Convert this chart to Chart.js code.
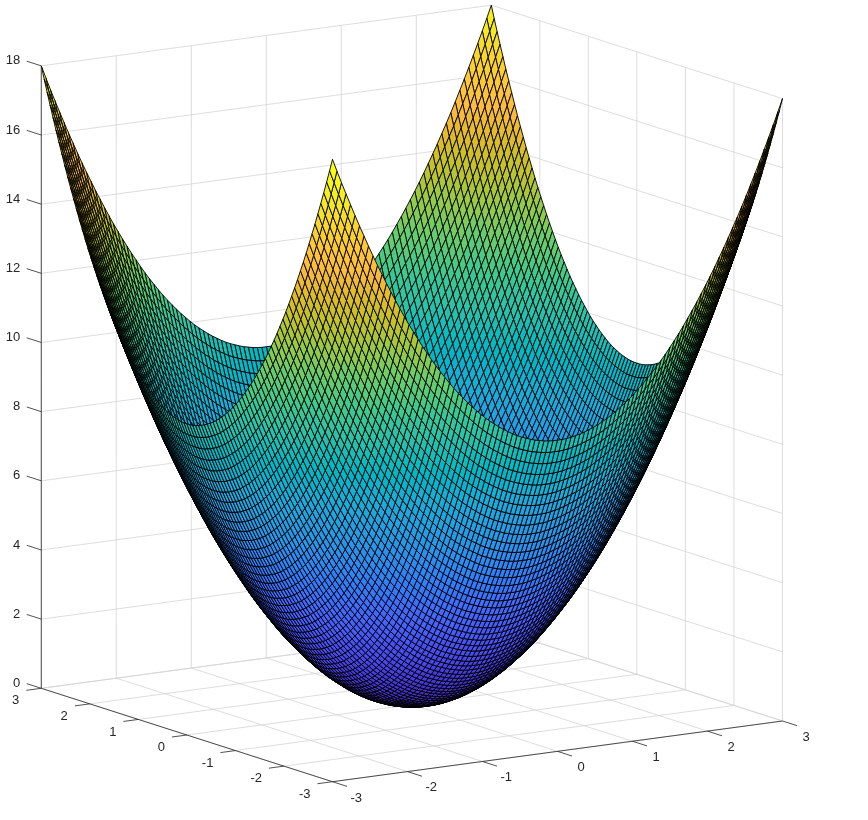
<!DOCTYPE html>
<html>
<head>
<meta charset="utf-8">
<script src="https://cdn.jsdelivr.net/npm/chart.js@4/dist/chart.umd.js"></script>
<style>body{margin:0;background:#fff}canvas{display:block}</style>
</head>
<body>
<canvas id="surfaceChart" width="868" height="820"></canvas>
<script>
// axis ticks
const xTicks = [-3, -2, -1, 0, 1, 2, 3];
const yTicks = [-3, -2, -1, 0, 1, 2, 3];
const zTicks = [0, 2, 4, 6, 8, 10, 12, 14, 16, 18];

// mesh positions, same on x and y
const gridX = [-3,-2.94,-2.88,-2.82,-2.76,-2.7,-2.64,-2.58,-2.52,-2.46,-2.4,-2.34,-2.28,-2.22,-2.16,-2.1,-2.04,-1.98,-1.92,-1.86,-1.8,-1.74,-1.68,-1.62,-1.56,-1.5,-1.44,-1.38,-1.32,-1.26,-1.2,-1.14,-1.08,-1.02,-0.96,-0.9,-0.84,-0.78,-0.72,-0.66,-0.6,-0.54,-0.48,-0.42,-0.36,-0.3,-0.24,-0.18,-0.12,-0.06,0,0.06,0.12,0.18,0.24,0.3,0.36,0.42,0.48,0.54,0.6,0.66,0.72,0.78,0.84,0.9,0.96,1.02,1.08,1.14,1.2,1.26,1.32,1.38,1.44,1.5,1.56,1.62,1.68,1.74,1.8,1.86,1.92,1.98,2.04,2.1,2.16,2.22,2.28,2.34,2.4,2.46,2.52,2.58,2.64,2.7,2.76,2.82,2.88,2.94,3];

// surface height in hundredths. The bowl is mirrored about both axes and the
// diagonal, so only one wedge is typed: row = steps from centre on the longer side
const heightRows = [
[0],
[0,0],
[1,1,2],
[3,3,4,6],
[6,6,7,9,12],
[9,9,10,12,15,18],
[13,13,14,16,19,22,26],
[18,18,19,21,24,27,31,36],
[23,23,24,26,29,32,36,41,46],
[29,29,30,32,35,38,42,47,52,58],
[36,36,37,39,42,45,49,54,59,65,72],
[44,44,45,47,50,53,57,62,67,73,80,88],
[52,52,53,55,58,61,65,70,75,81,88,96,104],
[61,61,62,64,67,70,74,79,84,90,97,105,113,122],
[71,71,72,74,77,80,84,89,94,100,107,115,123,132,142],
[81,81,82,84,87,90,94,99,104,110,117,125,133,142,152,162],
[92,92,93,95,98,101,105,110,115,121,128,136,144,153,163,173,184],
[104,104,105,107,110,113,117,122,127,133,140,148,156,165,175,185,196,208],
[117,117,118,120,123,126,130,135,140,146,153,161,169,178,188,198,209,221,234],
[130,130,131,133,136,139,143,148,153,159,166,174,182,191,201,211,222,234,247,260],
[144,144,145,147,150,153,157,162,167,173,180,188,196,205,215,225,236,248,261,274,288],
[159,159,160,162,165,168,172,177,182,188,195,203,211,220,230,240,251,263,276,289,303,318],
[174,174,175,177,180,183,187,192,197,203,210,218,226,235,245,255,266,278,291,304,318,333,348],
[190,190,191,193,196,199,203,208,213,219,226,234,242,251,261,271,282,294,307,320,334,349,364,380],
[207,207,208,210,213,216,220,225,230,236,243,251,259,268,278,288,299,311,324,337,351,366,381,397,414],
[225,225,226,228,231,234,238,243,248,254,261,269,277,286,296,306,317,329,342,355,369,384,399,415,432,450],
[243,243,244,246,249,252,256,261,266,272,279,287,295,304,314,324,335,347,360,373,387,402,417,433,450,468,486],
[262,262,263,265,268,271,275,280,285,291,298,306,314,323,333,343,354,366,379,392,406,421,436,452,469,487,505,524],
[282,282,283,285,288,291,295,300,305,311,318,326,334,343,353,363,374,386,399,412,426,441,456,472,489,507,525,544,564],
[303,303,304,306,309,312,316,321,326,332,339,347,355,364,374,384,395,407,420,433,447,462,477,493,510,528,546,565,585,606],
[324,324,325,327,330,333,337,342,347,353,360,368,376,385,395,405,416,428,441,454,468,483,498,514,531,549,567,586,606,627,648],
[346,346,347,349,352,355,359,364,369,375,382,390,398,407,417,427,438,450,463,476,490,505,520,536,553,571,589,608,628,649,670,692],
[369,369,370,372,375,378,382,387,392,398,405,413,421,430,440,450,461,473,486,499,513,528,543,559,576,594,612,631,651,672,693,715,738],
[392,392,393,395,398,401,405,410,415,421,428,436,444,453,463,473,484,496,509,522,536,551,566,582,599,617,635,654,674,695,716,738,761,784],
[416,416,417,419,422,425,429,434,439,445,452,460,468,477,487,497,508,520,533,546,560,575,590,606,623,641,659,678,698,719,740,762,785,808,832],
[441,441,442,444,447,450,454,459,464,470,477,485,493,502,512,522,533,545,558,571,585,600,615,631,648,666,684,703,723,744,765,787,810,833,857,882],
[467,467,468,470,473,476,480,485,490,496,503,511,519,528,538,548,559,571,584,597,611,626,641,657,674,692,710,729,749,770,791,813,836,859,883,908,934],
[493,493,494,496,499,502,506,511,516,522,529,537,545,554,564,574,585,597,610,623,637,652,667,683,700,718,736,755,775,796,817,839,862,885,909,934,960,986],
[520,520,521,523,526,529,533,538,543,549,556,564,572,581,591,601,612,624,637,650,664,679,694,710,727,745,763,782,802,823,844,866,889,912,936,961,987,1013,1040],
[548,548,549,551,554,557,561,566,571,577,584,592,600,609,619,629,640,652,665,678,692,707,722,738,755,773,791,810,830,851,872,894,917,940,964,989,1015,1041,1068,1096],
[576,576,577,579,582,585,589,594,599,605,612,620,628,637,647,657,668,680,693,706,720,735,750,766,783,801,819,838,858,879,900,922,945,968,992,1017,1043,1069,1096,1124,1152],
[605,605,606,608,611,614,618,623,628,634,641,649,657,666,676,686,697,709,722,735,749,764,779,795,812,830,848,867,887,908,929,951,974,997,1021,1046,1072,1098,1125,1153,1181,1210],
[635,635,636,638,641,644,648,653,658,664,671,679,687,696,706,716,727,739,752,765,779,794,809,825,842,860,878,897,917,938,959,981,1004,1027,1051,1076,1102,1128,1155,1183,1211,1240,1270],
[666,666,667,669,672,675,679,684,689,695,702,710,718,727,737,747,758,770,783,796,810,825,840,856,873,891,909,928,948,969,990,1012,1035,1058,1082,1107,1133,1159,1186,1214,1242,1271,1301,1332],
[697,697,698,700,703,706,710,715,720,726,733,741,749,758,768,778,789,801,814,827,841,856,871,887,904,922,940,959,979,1000,1021,1043,1066,1089,1113,1138,1164,1190,1217,1245,1273,1302,1332,1363,1394],
[729,729,730,732,735,738,742,747,752,758,765,773,781,790,800,810,821,833,846,859,873,888,903,919,936,954,972,991,1011,1032,1053,1075,1098,1121,1145,1170,1196,1222,1249,1277,1305,1334,1364,1395,1426,1458],
[762,762,763,765,768,771,775,780,785,791,798,806,814,823,833,843,854,866,879,892,906,921,936,952,969,987,1005,1024,1044,1065,1086,1108,1131,1154,1178,1203,1229,1255,1282,1310,1338,1367,1397,1428,1459,1491,1524],
[795,795,796,798,801,804,808,813,818,824,831,839,847,856,866,876,887,899,912,925,939,954,969,985,1002,1020,1038,1057,1077,1098,1119,1141,1164,1187,1211,1236,1262,1288,1315,1343,1371,1400,1430,1461,1492,1524,1557,1590],
[829,829,830,832,835,838,842,847,852,858,865,873,881,890,900,910,921,933,946,959,973,988,1003,1019,1036,1054,1072,1091,1111,1132,1153,1175,1198,1221,1245,1270,1296,1322,1349,1377,1405,1434,1464,1495,1526,1558,1591,1624,1658],
[864,864,865,867,870,873,877,882,887,893,900,908,916,925,935,945,956,968,981,994,1008,1023,1038,1054,1071,1089,1107,1126,1146,1167,1188,1210,1233,1256,1280,1305,1331,1357,1384,1412,1440,1469,1499,1530,1561,1593,1626,1659,1693,1728],
[900,900,901,903,906,909,913,918,923,929,936,944,952,961,971,981,992,1004,1017,1030,1044,1059,1074,1090,1107,1125,1143,1162,1182,1203,1224,1246,1269,1292,1316,1341,1367,1393,1420,1448,1476,1505,1535,1566,1597,1629,1662,1695,1729,1764,1800]
];

// parula colormap
const parula = [[0.2422,0.1504,0.6603],[0.2504,0.1650,0.7076],[0.2578,0.1818,0.7511],[0.2647,0.1978,0.7952],[0.2706,0.2147,0.8364],[0.2751,0.2342,0.8710],[0.2783,0.2559,0.8991],[0.2803,0.2782,0.9221],[0.2813,0.3006,0.9414],[0.2810,0.3228,0.9579],[0.2795,0.3447,0.9717],[0.2760,0.3667,0.9829],[0.2699,0.3892,0.9906],[0.2602,0.4123,0.9952],[0.2440,0.4358,0.9988],[0.2206,0.4603,0.9973],[0.1963,0.4847,0.9892],[0.1834,0.5074,0.9798],[0.1786,0.5289,0.9682],[0.1764,0.5499,0.9520],[0.1687,0.5703,0.9359],[0.1540,0.5902,0.9218],[0.1460,0.6091,0.9079],[0.1380,0.6276,0.8973],[0.1248,0.6459,0.8883],[0.1113,0.6635,0.8763],[0.0952,0.6798,0.8598],[0.0689,0.6948,0.8394],[0.0297,0.7082,0.8163],[0.0036,0.7197,0.7917],[0.0067,0.7300,0.7660],[0.0433,0.7394,0.7394],[0.0964,0.7500,0.7120],[0.1408,0.7584,0.6842],[0.1717,0.7670,0.6554],[0.1938,0.7758,0.6251],[0.2161,0.7843,0.5923],[0.2470,0.7918,0.5567],[0.2906,0.7973,0.5188],[0.3406,0.8008,0.4789],[0.3909,0.8029,0.4354],[0.4456,0.8024,0.3909],[0.5044,0.7993,0.3480],[0.5616,0.7942,0.3045],[0.6174,0.7876,0.2612],[0.6720,0.7793,0.2227],[0.7242,0.7698,0.1910],[0.7738,0.7598,0.1646],[0.8203,0.7498,0.1535],[0.8634,0.7406,0.1596],[0.9035,0.7330,0.1774],[0.9393,0.7288,0.2100],[0.9728,0.7298,0.2394],[0.9956,0.7434,0.2371],[0.9970,0.7659,0.2199],[0.9952,0.7893,0.2028],[0.9892,0.8136,0.1885],[0.9786,0.8386,0.1766],[0.9676,0.8639,0.1643],[0.9610,0.8890,0.1537],[0.9597,0.9135,0.1423],[0.9628,0.9373,0.1265],[0.9691,0.9606,0.1064],[0.9769,0.9839,0.0805]];
const zMax = 18;

// orthographic view: x scale is in screen px, y scale is in z units
const pxPerX = 75, pxPerY = 48.53, axisLeft = 41.3;
const riseX = 0.2926, riseY = 0.4502;
const pxPerZ = 34.58, zeroRow = 688.3;

function screenX(x, y) { return axisLeft + (x + 3) * pxPerX + (3 - y) * pxPerY; }
function screenY(x, y, z) { return z + (x + 3) * riseX + (y - 3) * riseY; }
function pt(x, y, z) { return { x: screenX(x, y), y: screenY(x, y, z) }; }

function heightAt(i, j) {
  const a = Math.abs(i - 50), b = Math.abs(j - 50);
  return heightRows[Math.max(a, b)][Math.min(a, b)] / 100;
}

function faceColor(z) {
  const c = parula[Math.min(parula.length - 1, Math.floor(z / zMax * parula.length))];
  return 'rgb(' + c.map(v => Math.round(v * 255)).join(',') + ')';
}

// painted back to front, each cell coloured from its lowest-index corner
class SurfaceController extends Chart.ScatterController {
  draw() {
    const ctx = this.chart.ctx;
    const pts = this._cachedMeta.data;
    const n = gridX.length;
    ctx.save();
    ctx.lineWidth = 0.9;
    ctx.strokeStyle = '#000';
    ctx.lineJoin = 'round';
    for (let i = n - 2; i >= 0; i--) {
      for (let j = n - 2; j >= 0; j--) {
        const a = pts[i * n + j], b = pts[(i + 1) * n + j], c = pts[(i + 1) * n + j + 1], d = pts[i * n + j + 1];
        ctx.beginPath();
        ctx.moveTo(a.x, a.y);
        ctx.lineTo(b.x, b.y);
        ctx.lineTo(c.x, c.y);
        ctx.lineTo(d.x, d.y);
        ctx.closePath();
        ctx.fillStyle = faceColor(heightAt(i, j));
        ctx.fill();
        ctx.stroke();
      }
    }
    ctx.restore();
  }
}
SurfaceController.id = 'surface';
SurfaceController.defaults = Chart.ScatterController.defaults;
Chart.register(SurfaceController);

const surfacePoints = [];
gridX.forEach((x, i) => gridX.forEach((y, j) => surfacePoints.push(pt(x, y, heightAt(i, j)))));

// grid lines on the floor and the two back walls, null breaks the line
const gridLines = [];
function seg(list, p, q) { list.push(p, q, { x: null, y: null }); }
xTicks.forEach(x => seg(gridLines, pt(x, -3, 0), pt(x, 3, 0)));
yTicks.forEach(y => seg(gridLines, pt(-3, y, 0), pt(3, y, 0)));
yTicks.forEach(y => seg(gridLines, pt(3, y, 0), pt(3, y, zMax)));
xTicks.forEach(x => seg(gridLines, pt(x, 3, 0), pt(x, 3, zMax)));
zTicks.forEach(z => {
  seg(gridLines, pt(3, -3, z), pt(3, 3, z));
  seg(gridLines, pt(-3, 3, z), pt(3, 3, z));
});

// axis lines and slanted tick marks
const axisLines = [];
seg(axisLines, pt(-3, 3, 0), pt(-3, -3, 0));
seg(axisLines, pt(-3, -3, 0), pt(3, -3, 0));
seg(axisLines, pt(-3, 3, 0), pt(-3, 3, zMax));
xTicks.forEach(x => seg(axisLines, pt(x, -3, 0), pt(x, -3.3, 0)));
yTicks.forEach(y => seg(axisLines, pt(-3, y, 0), pt(-3.2, y, 0)));
zTicks.forEach(z => seg(axisLines, pt(-3, 3, z), pt(-3, 3.3, z)));

// x and y tick labels sit along the floor edges
const floorLabels = {
  id: 'floorLabels',
  afterDatasetsDraw(chart) {
    const { ctx, scales } = chart;
    ctx.save();
    ctx.font = '13px "Liberation Sans"';
    ctx.fillStyle = '#262626';
    ctx.textBaseline = 'middle';
    ctx.textAlign = 'center';
    xTicks.forEach(x => {
      const p = pt(x, -3, 0);
      ctx.fillText(String(x), scales.x.getPixelForValue(p.x) + 23.7, scales.y.getPixelForValue(p.y) + 16.3);
    });
    ctx.textAlign = 'right';
    yTicks.forEach(y => {
      const p = pt(-3, y, 0);
      ctx.fillText(String(y), scales.x.getPixelForValue(p.x) - 22, scales.y.getPixelForValue(p.y) + 12.5);
    });
    ctx.restore();
  }
};

new Chart(document.getElementById('surfaceChart').getContext('2d'), {
  type: 'scatter',
  data: {
    datasets: [
      { label: 'axes', data: axisLines, showLine: true, spanGaps: false, pointRadius: 0, borderColor: '#262626', borderWidth: 0.8, clip: false, order: 1 },
      { type: 'surface', label: 'z', data: surfacePoints, pointRadius: 0, clip: false, order: 2 },
      { label: 'grid', data: gridLines, showLine: true, spanGaps: false, pointRadius: 0, borderColor: '#d4d4d4', borderWidth: 0.8, clip: false, order: 3 }
    ]
  },
  options: {
    responsive: false,
    animation: false,
    events: [],
    layout: { padding: 0 },
    plugins: { legend: { display: false }, tooltip: { enabled: false } },
    scales: {
      x: { type: 'linear', display: false, min: axisLeft, max: 868 },
      y: {
        type: 'linear',
        min: (zeroRow - 820) / pxPerZ,
        max: zeroRow / pxPerZ,
        afterBuildTicks(scale) { scale.ticks = zTicks.map(v => ({ value: v })); },
        afterFit(scale) {
          // the tick padding is only there to push labels left, keep the full height for the plot
          scale.width = axisLeft;
          scale.paddingTop = 0;
          scale.paddingBottom = 0;
          if (scale._margins) { scale._margins.top = 0; scale._margins.bottom = 0; }
        },
        border: { display: false },
        grid: { display: false, drawTicks: false },
        ticks: { autoSkip: false, padding: 21, labelOffset: -5, color: '#262626', font: { family: 'Liberation Sans', size: 13 } }
      }
    }
  },
  plugins: [floorLabels]
});
</script>
</body>
</html>
